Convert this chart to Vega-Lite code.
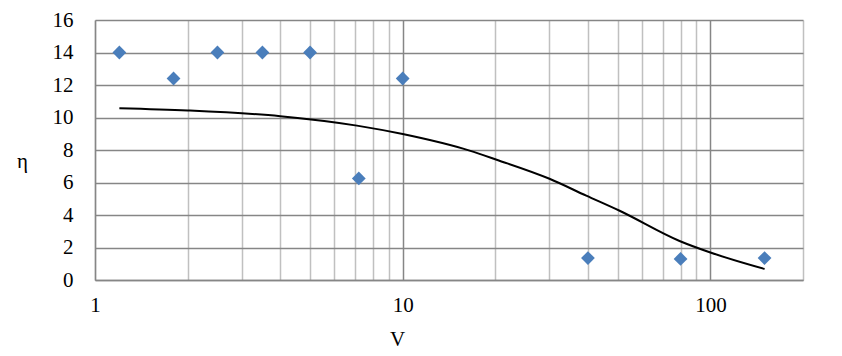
{
  "$schema": "https://vega.github.io/schema/vega-lite/v6.json",
  "width": 708,
  "height": 260,
  "autosize": "none",
  "padding": {"left": 95, "top": 20, "right": 39, "bottom": 76},
  "background": "white",
  "config": {
    "view": {"stroke": null},
    "font": "Liberation Serif"
  },
  "datasets": {
    "points": [
      {"V": 1.2, "eta": 14},
      {"V": 1.8, "eta": 12.4},
      {"V": 2.5, "eta": 14},
      {"V": 3.5, "eta": 14},
      {"V": 5, "eta": 14},
      {"V": 7.2, "eta": 6.25},
      {"V": 10, "eta": 12.4},
      {"V": 40, "eta": 1.35},
      {"V": 80, "eta": 1.3},
      {"V": 150, "eta": 1.35}
    ],
    "curve": [
      {"V": 1.2, "eta": 10.57},
      {"V": 2.0, "eta": 10.43},
      {"V": 4.0, "eta": 10.08},
      {"V": 7.1, "eta": 9.5},
      {"V": 10, "eta": 8.98},
      {"V": 16.5, "eta": 7.96},
      {"V": 20.2, "eta": 7.4},
      {"V": 30, "eta": 6.23},
      {"V": 39.5, "eta": 5.19},
      {"V": 50.7, "eta": 4.26},
      {"V": 79.4, "eta": 2.4},
      {"V": 100, "eta": 1.69},
      {"V": 150, "eta": 0.68}
    ]
  },
  "encoding": {
    "x": {
      "field": "V",
      "type": "quantitative",
      "scale": {"type": "log", "domain": [1, 200], "nice": false},
      "axis": {
        "title": "V",
        "values": [1, 2, 3, 4, 5, 6, 7, 8, 9, 10, 20, 30, 40, 50, 60, 70, 80, 90, 100, 200],
        "labelExpr": "(datum.value == 1 || datum.value == 10 || datum.value == 100) ? datum.label : ''",
        "format": "d",
        "grid": true,
        "gridColor": {"condition": {"test": "datum.value == 10 || datum.value == 100", "value": "#868686"}, "value": "#c0c0c0"},
        "gridWidth": 1.5,
        "domainColor": "#868686",
        "domainWidth": 1.5,
        "ticks": false,
        "labelFlush": false,
        "labelPadding": 14,
        "labelFontSize": 21,
        "labelColor": "black",
        "labelFont": "Liberation Serif",
        "titleFont": "Liberation Serif",
        "titleFontSize": 21,
        "titleFontWeight": "normal",
        "titleColor": "black",
        "titleX": 302,
        "titleY": 59,
        "titleBaseline": "middle",
        "labelOverlap": false
      }
    },
    "y": {
      "field": "eta",
      "type": "quantitative",
      "scale": {"domain": [0, 16], "nice": false},
      "axis": {
        "title": "η",
        "values": [0, 2, 4, 6, 8, 10, 12, 14, 16],
        "grid": true,
        "gridColor": "#868686",
        "gridWidth": 1.5,
        "domainColor": "#868686",
        "domainWidth": 1.5,
        "ticks": false,
        "labelFlush": false,
        "labelPadding": 22,
        "labelFontSize": 21,
        "labelColor": "black",
        "labelFont": "Liberation Serif",
        "titleFont": "Liberation Serif",
        "titleFontSize": 21,
        "titleFontWeight": "normal",
        "titleColor": "black",
        "titleAngle": 0,
        "titleAlign": "center",
        "titleBaseline": "middle",
        "titleX": -73,
        "titleY": 141
      }
    }
  },
  "layer": [
    {
      "data": {"name": "curve"},
      "mark": {"type": "line", "color": "black", "strokeWidth": 2, "interpolate": "monotone"}
    },
    {
      "data": {"name": "points"},
      "mark": {"type": "point", "shape": "diamond", "filled": true, "opacity": 1, "color": "#4a7ebb", "size": 190}
    }
  ]
}
